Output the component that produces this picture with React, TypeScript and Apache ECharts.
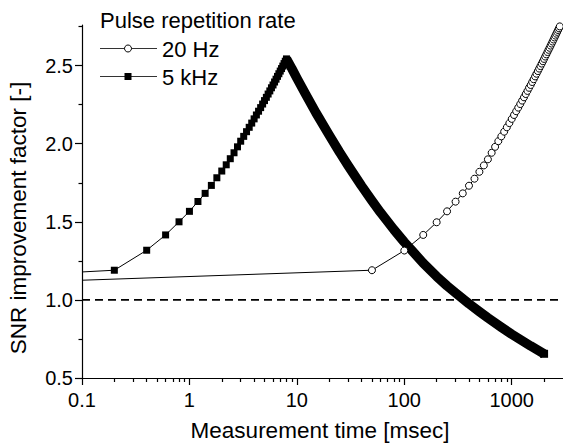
import React, { useEffect, useRef } from "react";
import * as echarts from "echarts";

const FONT = '"Liberation Sans", Arial, Helvetica, sans-serif';

// Pulse periods (ms) of the two repetition rates
const period20HzMs = 50;
const period5kHzMs = 0.2;

// Value at the left edge of the plot (t = 0.1 ms)
const start20Hz = 1.126;
const start5kHz = 1.179;

// 20 Hz: SNR improvement after each pulse (n = 1..60)
const snr20Hz = [
  1.19, 1.316, 1.416, 1.497, 1.567, 1.629, 1.682, 1.731, 1.776, 1.82,
  1.861, 1.9, 1.942, 1.98, 2.016, 2.047, 2.077, 2.105, 2.132, 2.159,
  2.184, 2.208, 2.231, 2.254, 2.276, 2.297, 2.318, 2.338, 2.358, 2.376,
  2.395, 2.413, 2.431, 2.448, 2.465, 2.481, 2.497, 2.513, 2.528, 2.543,
  2.558, 2.572, 2.587, 2.601, 2.614, 2.628, 2.641, 2.654, 2.667, 2.68,
  2.692, 2.704, 2.716, 2.728, 2.739, 2.751, 2.762, 2.773, 2.785, 2.795,
];

// 5 kHz: rising part, one value per pulse (n = 1..40)
const snr5kHzRise = [
  1.19, 1.318, 1.416, 1.5, 1.567, 1.63, 1.682, 1.733, 1.782, 1.825,
  1.865, 1.904, 1.942, 1.98, 2.016, 2.047, 2.077, 2.105, 2.132, 2.159,
  2.184, 2.208, 2.231, 2.254, 2.276, 2.297, 2.318, 2.338, 2.358, 2.376,
  2.395, 2.413, 2.431, 2.448, 2.465, 2.481, 2.497, 2.513, 2.528, 2.543,
];

// 5 kHz: decaying part (dense pulses, drawn as a thick band)
const decay5kHzTimes = [8, 9, 10, 12, 15, 20, 25, 30, 40, 50, 60, 80, 100, 120, 150, 200, 250, 300, 400, 500, 600, 800, 1000, 1500, 2000];
const decay5kHzValues = [2.543, 2.48, 2.42, 2.32, 2.2, 2.055, 1.945, 1.86, 1.73, 1.635, 1.56, 1.45, 1.37, 1.31, 1.235, 1.15, 1.09, 1.045, 0.975, 0.925, 0.885, 0.825, 0.78, 0.705, 0.655];

const referenceLevel = 1.0;

const xMajorTicks = [0.1, 1, 10, 100, 1000];
const xMinorTicks = [
  0.2, 0.3, 0.4, 0.5, 0.6, 0.7, 0.8, 0.9,
  2, 3, 4, 5, 6, 7, 8, 9,
  20, 30, 40, 50, 60, 70, 80, 90,
  200, 300, 400, 500, 600, 700, 800, 900,
  2000,
];
const yMajorTicks = [0.5, 1.0, 1.5, 2.0, 2.5];

const xTitle = "Measurement time [msec]";
const yTitle = "SNR improvement factor [-]";
const legendTitle = "Pulse repetition rate";
const name20Hz = "20 Hz";
const name5kHz = "5 kHz";

const X_MIN = 0.1;
const X_MAX = 3000;

export default function App() {
  const ref = useRef<HTMLDivElement>(null);

  useEffect(() => {
    const chart = echarts.init(ref.current!, undefined, { renderer: "svg" });
    const black = "#000";
    const axisLineStyle = { color: black, width: 1.2 };

    const data20 = [
      { value: [X_MIN, start20Hz], symbol: "none" },
      ...snr20Hz.map((v, i) => [(i + 1) * period20HzMs, v]),
    ];
    const data5kRise = [
      { value: [X_MIN, start5kHz], symbol: "none" },
      ...snr5kHzRise.map((v, i) => [(i + 1) * period5kHzMs, v]),
    ];
    const data5kDecay = decay5kHzTimes.map((t, i) => {
      const last = i === decay5kHzTimes.length - 1;
      return last
        ? { value: [t, decay5kHzValues[i]], symbol: "rect", symbolSize: 8 }
        : { value: [t, decay5kHzValues[i]], symbol: "none" };
    });

    const option: any = {
      animation: false,
      backgroundColor: "#fff",
      grid: { left: 82, right: 0, top: 25, bottom: 68, containLabel: false },
      xAxis: [
        {
          type: "log",
          logBase: 10,
          min: X_MIN,
          max: X_MAX,
          position: "bottom",
          axisLine: { show: true, onZero: false, lineStyle: axisLineStyle },
          axisTick: { show: true, customValues: xMajorTicks, length: 7, lineStyle: axisLineStyle },
          axisLabel: {
            customValues: xMajorTicks,
            formatter: (v: number) => String(v),
            color: black,
            fontSize: 20,
            fontFamily: FONT,
            margin: 12,
          },
          splitLine: { show: false },
        },
        {
          type: "log",
          logBase: 10,
          min: X_MIN,
          max: X_MAX,
          position: "bottom",
          axisLine: { show: false, onZero: false },
          axisTick: { show: true, customValues: xMinorTicks, length: 4, lineStyle: axisLineStyle },
          axisLabel: { show: false },
          splitLine: { show: false },
        },
      ],
      yAxis: {
        type: "value",
        min: 0.5,
        max: 2.76,
        interval: 0.5,
        axisLine: { show: true, onZero: false, lineStyle: axisLineStyle },
        axisTick: { show: true, customValues: yMajorTicks, length: 7, lineStyle: axisLineStyle },
        minorTick: { show: true, splitNumber: 2, length: 3.5, lineStyle: axisLineStyle },
        axisLabel: {
          customValues: yMajorTicks,
          formatter: (v: number) => v.toFixed(1),
          color: black,
          fontSize: 20,
          fontFamily: FONT,
          margin: 9,
        },
        splitLine: { show: false },
        minorSplitLine: { show: false },
      },
      series: [
        {
          type: "line",
          name: "ref",
          data: [
            [X_MIN, referenceLevel],
            [X_MAX, referenceLevel],
          ],
          symbol: "none",
          silent: true,
          lineStyle: { color: black, width: 1.6, type: [8, 5] },
        },
        {
          type: "line",
          name: name20Hz,
          data: data20,
          symbol: "circle",
          symbolSize: 7,
          showSymbol: true,
          showAllSymbol: true,
          clip: true,
          itemStyle: { color: "#fff", borderColor: black, borderWidth: 1 },
          lineStyle: { color: black, width: 1 },
        },
        {
          type: "line",
          name: "5 kHz decay",
          data: data5kDecay,
          showSymbol: true,
          showAllSymbol: true,
          clip: true,
          itemStyle: { color: black },
          lineStyle: { color: black, width: 9.5, cap: "butt", join: "round" },
        },
        {
          type: "line",
          name: name5kHz,
          data: data5kRise,
          symbol: "rect",
          symbolSize: 7,
          showSymbol: true,
          showAllSymbol: true,
          clip: true,
          itemStyle: { color: black },
          lineStyle: { color: black, width: 1 },
        },
      ],
      graphic: [
        {
          type: "text",
          x: 320,
          y: 430,
          style: { text: xTitle, font: `22.5px ${FONT}`, fill: black, verticalAlign: "middle", align: "center" },
        },
        {
          type: "text",
          x: 18.5,
          y: 218,
          rotation: Math.PI / 2,
          style: { text: yTitle, font: `22.5px ${FONT}`, fill: black, verticalAlign: "middle", align: "center" },
        },
        {
          type: "text",
          x: 100,
          y: 20.5,
          style: { text: legendTitle, font: `22px ${FONT}`, fill: black, verticalAlign: "middle", align: "left" },
        },
        { type: "line", shape: { x1: 100, y1: 48.5, x2: 157, y2: 48.5 }, style: { stroke: "#333", lineWidth: 1 } },
        { type: "circle", shape: { cx: 128, cy: 48.5, r: 3.5 }, style: { fill: "#fff", stroke: black, lineWidth: 1 } },
        {
          type: "text",
          x: 162,
          y: 49,
          style: { text: name20Hz, font: `22px ${FONT}`, fill: black, verticalAlign: "middle", align: "left" },
        },
        { type: "line", shape: { x1: 100, y1: 76.5, x2: 157, y2: 76.5 }, style: { stroke: "#333", lineWidth: 1 } },
        { type: "rect", shape: { x: 124.5, y: 73, width: 7, height: 7 }, style: { fill: black } },
        {
          type: "text",
          x: 162,
          y: 77,
          style: { text: name5kHz, font: `22px ${FONT}`, fill: black, verticalAlign: "middle", align: "left" },
        },
      ],
    };

    chart.setOption(option);
    return () => chart.dispose();
  }, []);

  return (
    <div
      ref={ref}
      style={{ position: "fixed", left: 0, top: 0, width: 563, height: 446, background: "#fff" }}
    />
  );
}
